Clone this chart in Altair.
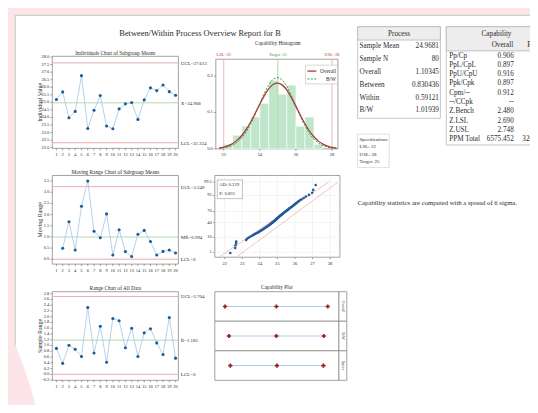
import math
from statistics import NormalDist

import altair as alt
import pandas as pd

# ---------------- data ----------------
report_title = "Between/Within Process Overview Report for B"

subgroup_ids = list(range(1, 21))
subgroup_means = [25.19, 25.69, 23.98, 24.40, 26.77, 23.27, 24.48, 25.45, 23.43, 23.25,
                  24.57, 24.90, 24.99, 23.87, 25.16, 25.96, 25.78, 26.15, 25.71, 25.47]
mr_ids = list(range(2, 21))
moving_ranges = [0.49, 1.68, 0.41, 2.37, 3.50, 1.25, 0.96, 2.03, 0.19, 1.32,
                 0.34, 0.12, 1.12, 1.29, 0.79, 0.19, 0.35, 0.41, 0.28]
subgroup_ranges = [0.90, 0.38, 1.01, 0.87, 0.62, 2.32, 0.74, 1.67, 0.42, 1.94,
                   1.86, 0.92, 1.60, 0.62, 1.44, 1.58, 1.09, 0.69, 1.97, 0.56]

limit_kinds = ["limit", "center", "limit"]
ind_limit_values = [27.613, 24.968, 22.324]
ind_limit_text = ["UCL=27.613", "X\u033f=24.968", "LCL=22.324"]
mr_limit_values = [3.249, 0.994, 0.0]
mr_limit_text = ["UCL=3.249", "MR\u0304=0.994", "LCL=0"]
r_limit_values = [2.704, 1.185, 0.0]
r_limit_text = ["UCL=2.704", "R\u0304=1.185", "LCL=0"]

ind_yticks = [22.0, 22.5, 23.0, 23.5, 24.0, 24.5, 25.0, 25.5, 26.0, 26.5, 27.0, 27.5, 28.0]
mr_yticks = [0.0, 0.5, 1.0, 1.5, 2.0, 2.5, 3.0, 3.5]
r_yticks = [-0.2, 0.0, 0.2, 0.4, 0.6, 0.8, 1.0, 1.2, 1.4, 1.6, 1.8, 2.0, 2.2, 2.4, 2.6, 2.8]

ind_title = "Individuals Chart of Subgroup Means"
mr_title = "Moving Range Chart of Subgroup Means"
r_title = "Range Chart of All Data"
ind_ytitle = "Individual Value"
mr_ytitle = "Moving Range"
r_ytitle = "Sample Range"

hist_title = "Capability Histogram"
hist_bin_start = [22.0, 22.5, 23.0, 23.5, 24.0, 24.5, 25.0, 25.5, 26.0, 26.5, 27.0]
hist_bin_end = [22.5, 23.0, 23.5, 24.0, 24.5, 25.0, 25.5, 26.0, 26.5, 27.0, 27.5]
hist_density = [0.0125, 0.0375, 0.0625, 0.0875, 0.125, 0.1875, 0.15, 0.175, 0.0625, 0.0875, 0.0125]
hist_xticks = [22, 24, 26, 28]
hist_yticks = [0.0, 0.1, 0.2]

curve_x = [21.75, 22.0, 22.25, 22.5, 22.75, 23.0, 23.25, 23.5, 23.75, 24.0, 24.25, 24.5, 24.75, 25.0,
           25.25, 25.5, 25.75, 26.0, 26.25, 26.5, 26.75, 27.0, 27.25, 27.5, 27.75, 28.0, 28.25]
curve_overall = [0.0026, 0.0049, 0.0087, 0.0148, 0.0240, 0.0368, 0.0538, 0.0746, 0.0983, 0.1230,
                 0.1463, 0.1652, 0.1773, 0.1807, 0.1750, 0.1610, 0.1406, 0.1167, 0.0921, 0.0690,
                 0.0491, 0.0332, 0.0213, 0.0130, 0.0075, 0.0041, 0.0022]
curve_bw = [0.0013, 0.0028, 0.0056, 0.0104, 0.0184, 0.0303, 0.0473, 0.0694, 0.0958, 0.1247,
            0.1527, 0.1761, 0.1913, 0.1956, 0.1883, 0.1708, 0.1458, 0.1172, 0.0887, 0.0633,
            0.0425, 0.0269, 0.0160, 0.0089, 0.0047, 0.0023, 0.0011]
legend_names = ["Overall", "B/W"]

spec_values = [22, 25, 28]
spec_text = ["LSL=22", "Target=25", "USL=28"]
spec_kinds = ["limit", "target", "limit"]

prob_obs = [22.32, 22.60, 22.62, 22.65, 22.66, 23.22, 23.28, 23.36, 23.45, 23.55,
            23.64, 23.72, 23.80, 23.88, 23.95, 24.00, 24.06, 24.12, 24.17, 24.22,
            24.27, 24.31, 24.36, 24.40, 24.44, 24.48, 24.52, 24.56, 24.60, 24.63,
            24.66, 24.70, 24.73, 24.76, 24.80, 24.83, 24.86, 24.89, 24.92, 24.95,
            24.96, 24.99, 25.02, 25.05, 25.08, 25.11, 25.14, 25.17, 25.20, 25.24,
            25.27, 25.30, 25.34, 25.37, 25.41, 25.45, 25.48, 25.52, 25.56, 25.60,
            25.64, 25.68, 25.72, 25.77, 25.82, 25.87, 25.92, 25.97, 26.02, 26.08,
            26.14, 26.20, 26.28, 26.38, 26.50, 26.62, 26.80, 26.98, 27.04, 27.18]
prob_xticks = [22, 23, 24, 25, 26, 27, 28]
prob_tick_pct = [1, 10, 40, 70, 95, 99.5]
prob_tick_text = ["1", "10", "40", "70", "95", "99.5"]
prob_band_group = ["a", "a", "b", "b"]
prob_band_x = [21.70, 27.91, 22.67, 28.45]
prob_band_pct = [0.4, 99.5, 0.4, 99.5]
ad_lines = ["AD: 0.219", "P: 0.831"]

capplot_title = "Capability Plot"
cap_rows = ["Overall", "B/W", "Specs"]
cap_low = [21.657, 21.910, 22.0]
cap_mid = [24.968, 24.968, 25.0]
cap_high = [28.279, 28.026, 28.0]

process_header = "Process"
process_labels = ["Sample Mean", "Sample N", "Overall", "Between", "Within", "B/W"]
process_values = ["24.9681", "80", "1.10345", "0.830436", "0.59121", "1.01939"]

capability_header = "Capability"
capability_cols = ["Overall", "B/W"]
capability_labels = ["Pp/Cp", "PpL/CpL", "PpU/CpU", "Ppk/Cpk", "Cpm/--", "--/CCpk",
                     "Z.Bench", "Z.LSL", "Z.USL", "PPM Total"]
capability_overall = ["0.906", "0.897", "0.916", "0.897", "0.912", "--",
                      "2.480", "2.690", "2.748", "6575.452"]
capability_bw = ["0.981", "0.971", "0.991", "0.971", "--", "0.981",
                 "2.720", "2.912", "2.974", "3265.148"]

spec_box_lines = ["Specifications", "LSL: 22", "USL: 28", "Target: 25"]
note_text = "Capability statistics are computed with a spread of 6 sigma."

# ---------------- styling / layout ----------------
FONT = "Liberation Serif, DejaVu Serif, serif"
PINK = "#fde4e8"
PAGE_BORDER = "#cbd3c3"
FRAME = "#8a8a8a"
TXT = "#2b2b2b"
TICK = "#666666"
LINE_BLUE = "#9fc5e8"
POINT_BLUE = "#1f5b99"
LINE_COLORS = {"limit": "#e6a3a3", "center": "#a9d5a9", "target": "#8fcf8f"}
SPEC_TEXT_COLORS = {"limit": "#c0392b", "target": "#3c9a4a"}
HIST_GREEN = "#bfe5cb"
CURVE_RED = "#a33b32"
CURVE_GREEN = "#3c9a4a"
CROSS_RED = "#9b1c1c"

AXIS_FS = 4.6
PANEL_TITLE_FS = 5.4
LIMIT_FS = 5.0
YTITLE_FS = 6.0
TABLE_FS = 7.3
NOTE_FS = 6.8
HEAD_FS = 8.5

OX, OY = 8, 8
W, H = 530, 397


def px(v):
    return v - OX


def py(v):
    return v - OY


def lin_x(domain, x0, x1):
    return alt.Scale(domain=domain, range=[px(x0), px(x1)], nice=False, zero=False)


def lin_y(domain, y_bot, y_top):
    return alt.Scale(domain=domain, range=[py(y_bot), py(y_top)], nice=False, zero=False)


def text_at(text, x, y, size, color=TXT, align="center", weight="normal", angle=None):
    mk = dict(align=align, baseline="middle", fontSize=size, font=FONT, color=color,
              fontWeight=weight)
    if angle is not None:
        mk["angle"] = angle
    return alt.Chart(pd.DataFrame({"t": [text]})).mark_text(**mk).encode(
        x=alt.value(px(x)), y=alt.value(py(y)), text="t:N")


def box(x0, y0, x1, y1, fill="white", stroke=None, sw=0.8):
    mk = dict(fill=fill)
    if stroke:
        mk.update(stroke=stroke, strokeWidth=sw)
    else:
        mk.update(strokeOpacity=0)
    return alt.Chart(pd.DataFrame({"a": [0]})).mark_rect(**mk).encode(
        x=alt.value(px(x0)), x2=alt.value(px(x1)), y=alt.value(py(y0)), y2=alt.value(py(y1)))


def hline(x0, x1, y, color, sw=1.0, dash=None):
    mk = dict(color=color, strokeWidth=sw)
    if dash:
        mk["strokeDash"] = dash
    return alt.Chart(pd.DataFrame({"a": [0]})).mark_rule(**mk).encode(
        x=alt.value(px(x0)), x2=alt.value(px(x1)), y=alt.value(py(y)))


def vline(x, y0, y1, color, sw=1.0):
    return alt.Chart(pd.DataFrame({"a": [0]})).mark_rule(color=color, strokeWidth=sw).encode(
        x=alt.value(px(x)), y=alt.value(py(y0)), y2=alt.value(py(y1)))


def frame_rect(xsc, ysc, xdom, ydom):
    d = pd.DataFrame({"x0": [xdom[0]], "x1": [xdom[1]], "y0": [ydom[0]], "y1": [ydom[1]]})
    return alt.Chart(d).mark_rect(fill="white", stroke=FRAME, strokeWidth=0.8).encode(
        x=alt.X("x0:Q", scale=xsc, axis=None), x2="x1:Q",
        y=alt.Y("y0:Q", scale=ysc, axis=None), y2="y1:Q")


def x_axis(xsc, values, texts, y_bot):
    d = pd.DataFrame({"v": values, "t": texts})
    ticks = alt.Chart(d).mark_rule(color=TICK, strokeWidth=0.6).encode(
        x=alt.X("v:Q", scale=xsc, axis=None), y=alt.value(py(y_bot)), y2=alt.value(py(y_bot) + 2))
    labels = alt.Chart(d).mark_text(baseline="top", fontSize=AXIS_FS, font=FONT, color=TXT).encode(
        x=alt.X("v:Q", scale=xsc, axis=None), y=alt.value(py(y_bot) + 3.5), text="t:N")
    return [ticks, labels]


def y_axis(ysc, values, texts, x_left):
    d = pd.DataFrame({"v": values, "t": texts})
    ticks = alt.Chart(d).mark_rule(color=TICK, strokeWidth=0.6).encode(
        y=alt.Y("v:Q", scale=ysc, axis=None), x=alt.value(px(x_left) - 2), x2=alt.value(px(x_left)))
    labels = alt.Chart(d).mark_text(align="right", baseline="middle", fontSize=AXIS_FS, font=FONT,
                                    color=TXT).encode(
        y=alt.Y("v:Q", scale=ysc, axis=None), x=alt.value(px(x_left) - 3), text="t:N")
    return [ticks, labels]


# ---------------- control charts ----------------
CTRL_X0, CTRL_X1 = 53, 181
CTRL_XDOM = [0.35, 20.45]
CTRL_TITLE_X = 117
YTITLE_X = 41


def control_panel(ids, vals, lim_vals, lim_text, ydom, y_top, y_bot, yticks, ytitle,
                  title_txt, title_y):
    xsc = lin_x(CTRL_XDOM, CTRL_X0, CTRL_X1)
    ysc = lin_y(ydom, y_bot, y_top)
    frame = frame_rect(xsc, ysc, CTRL_XDOM, ydom)
    lim = pd.DataFrame({"v": lim_vals, "t": lim_text, "k": limit_kinds})
    lim["c"] = lim["k"].map(LINE_COLORS)
    lim["x0"] = CTRL_XDOM[0]
    lim["x1"] = CTRL_XDOM[1]
    rules = alt.Chart(lim).mark_rule(strokeWidth=0.9).encode(
        x=alt.X("x0:Q", scale=xsc, axis=None), x2="x1:Q",
        y=alt.Y("v:Q", scale=ysc, axis=None),
        color=alt.Color("c:N", scale=None),
    )
    labels = alt.Chart(lim).mark_text(align="left", baseline="middle", dx=2.5, fontSize=LIMIT_FS,
                                      font=FONT, color=TXT).encode(
        x=alt.X("x1:Q", scale=xsc, axis=None),
        y=alt.Y("v:Q", scale=ysc, axis=None),
        text="t:N",
    )
    d = pd.DataFrame({"i": ids, "v": vals})
    line = alt.Chart(d).mark_line(color=LINE_BLUE, strokeWidth=0.8).encode(
        x=alt.X("i:Q", scale=xsc, axis=None), y=alt.Y("v:Q", scale=ysc, axis=None))
    pts = alt.Chart(d).mark_circle(size=10, color=POINT_BLUE, opacity=1).encode(
        x=alt.X("i:Q", scale=xsc, axis=None), y=alt.Y("v:Q", scale=ysc, axis=None))
    layers = [frame, rules, line, pts, labels]
    layers += x_axis(xsc, subgroup_ids, [str(i) for i in subgroup_ids], y_bot)
    layers += y_axis(ysc, yticks, [f"{v:.1f}" for v in yticks], CTRL_X0)
    layers.append(text_at(title_txt, CTRL_TITLE_X, title_y, PANEL_TITLE_FS))
    layers.append(text_at(ytitle, YTITLE_X, (y_top + y_bot) / 2, YTITLE_FS, angle=270))
    return layers


ind_layers = control_panel(subgroup_ids, subgroup_means, ind_limit_values, ind_limit_text,
                           [21.95, 28.05], 54, 147.5, ind_yticks, ind_ytitle, ind_title, 50.5)
mr_layers = control_panel(mr_ids, moving_ranges, mr_limit_values, mr_limit_text,
                          [-0.22, 3.75], 175, 265, mr_yticks, mr_ytitle, mr_title, 171)
r_layers = control_panel(subgroup_ids, subgroup_ranges, r_limit_values, r_limit_text,
                         [-0.21, 2.87], 293, 383, r_yticks, r_ytitle, r_title, 289)

# ---------------- capability histogram ----------------
HX0, HX1, HYT, HYB = 219, 343, 57, 148
HXDOM, HYDOM = [21.56, 28.33], [0.0, 0.246]
hxs = lin_x(HXDOM, HX0, HX1)
hys = lin_y(HYDOM, HYB, HYT)
h_frame = frame_rect(hxs, hys, HXDOM, HYDOM)
bars_df = pd.DataFrame({"s": hist_bin_start, "e": hist_bin_end, "d": hist_density})
bars_df["base"] = 0.0
h_bars = alt.Chart(bars_df).mark_rect(fill=HIST_GREEN, stroke="white", strokeWidth=0.6).encode(
    x=alt.X("s:Q", scale=hxs, axis=None), x2="e:Q",
    y=alt.Y("base:Q", scale=hys, axis=None), y2="d:Q")
spec_df = pd.DataFrame({"v": spec_values, "t": spec_text, "k": spec_kinds})
spec_df["c"] = spec_df["k"].map(LINE_COLORS)
spec_df["tc"] = spec_df["k"].map(SPEC_TEXT_COLORS)
spec_df["y0"] = HYDOM[0]
spec_df["y1"] = HYDOM[1]
h_specs = alt.Chart(spec_df).mark_rule(strokeWidth=0.8).encode(
    x=alt.X("v:Q", scale=hxs, axis=None),
    y=alt.Y("y0:Q", scale=hys, axis=None), y2="y1:Q",
    color=alt.Color("c:N", scale=None))
h_spec_text = alt.Chart(spec_df).mark_text(fontSize=4.4, font=FONT, baseline="middle").encode(
    x=alt.X("v:Q", scale=hxs, axis=None), y=alt.value(py(53)), text="t:N",
    color=alt.Color("tc:N", scale=None))
curve_df = pd.DataFrame({"x": curve_x, "o": curve_overall, "b": curve_bw})
h_overall = alt.Chart(curve_df).mark_line(color=CURVE_RED, strokeWidth=1.3, interpolate="monotone").encode(
    x=alt.X("x:Q", scale=hxs, axis=None), y=alt.Y("o:Q", scale=hys, axis=None))
h_bw = alt.Chart(curve_df).mark_line(color=CURVE_GREEN, strokeWidth=1.0, strokeDash=[2, 1.5],
                                     interpolate="monotone").encode(
    x=alt.X("x:Q", scale=hxs, axis=None), y=alt.Y("b:Q", scale=hys, axis=None))
hist_layers = [h_frame, h_bars, h_specs, h_bw, h_overall, h_spec_text]
hist_layers += x_axis(hxs, hist_xticks, [str(v) for v in hist_xticks], HYB)
hist_layers += y_axis(hys, hist_yticks, [f"{v:.1f}" for v in hist_yticks], HX0)
hist_layers += [
    box(310, 63, 342.5, 82, "white", "#bbbbbb", 0.6),
    hline(312, 321, 69, CURVE_RED, 1.3),
    hline(312, 321, 77, CURVE_GREEN, 1.0, [2, 1.5]),
    text_at(legend_names[0], 341, 69, 5.4, align="right"),
    text_at(legend_names[1], 341, 77, 5.4, align="right"),
    text_at(hist_title, 282, 41, PANEL_TITLE_FS),
]

# ---------------- normal probability plot ----------------
PX0, PX1, PYT, PYB = 218, 345, 175, 258
PXDOM, PYDOM = [21.44, 28.56], [-2.67, 3.04]
pxs = lin_x(PXDOM, PX0, PX1)
pys = lin_y(PYDOM, PYB, PYT)
prob_tick_z = [NormalDist().inv_cdf(p / 100.0) for p in prob_tick_pct]
p_frame = frame_rect(pxs, pys, PXDOM, PYDOM)
gx_df = pd.DataFrame({"v": prob_xticks})
gx_df["y0"] = PYDOM[0]
gx_df["y1"] = PYDOM[1]
p_gx = alt.Chart(gx_df).mark_rule(color="#ececec", strokeWidth=0.6).encode(
    x=alt.X("v:Q", scale=pxs, axis=None),
    y=alt.Y("y0:Q", scale=pys, axis=None), y2="y1:Q")
gy_df = pd.DataFrame({"z": prob_tick_z})
gy_df["x0"] = PXDOM[0]
gy_df["x1"] = PXDOM[1]
p_gy = alt.Chart(gy_df).mark_rule(color="#ececec", strokeWidth=0.6).encode(
    y=alt.Y("z:Q", scale=pys, axis=None),
    x=alt.X("x0:Q", scale=pxs, axis=None), x2="x1:Q")
band_df = pd.DataFrame({"g": prob_band_group, "x": prob_band_x, "p": prob_band_pct})
p_bands = alt.Chart(band_df).transform_calculate(
    z="quantileNormal(datum.p / 100)").mark_line(color="#f0b4b4", strokeWidth=0.8).encode(
    x=alt.X("x:Q", scale=pxs, axis=None), y=alt.Y("z:Q", scale=pys, axis=None), detail="g:N")
n_obs = len(prob_obs)
p_pts = alt.Chart(pd.DataFrame({"v": prob_obs})).transform_window(
    n="row_number()", sort=[alt.SortField("v")]).transform_calculate(
    z=f"quantileNormal((datum.n - 0.3) / ({n_obs} + 0.4))").mark_circle(
    size=7, color=POINT_BLUE, opacity=1).encode(
    x=alt.X("v:Q", scale=pxs, axis=None), y=alt.Y("z:Q", scale=pys, axis=None))
prob_layers = [p_frame, p_gx, p_gy, p_bands, p_pts]
prob_layers += x_axis(pxs, prob_xticks, [str(v) for v in prob_xticks], PYB)
prob_layers += y_axis(pys, prob_tick_z, prob_tick_text, PX0)
prob_layers += [
    box(220.5, 179.5, 246, 198.5, "white", "#999999", 0.6),
    text_at(ad_lines[0], 222.5, 185, 4.8, align="left"),
    text_at(ad_lines[1], 222.5, 193.5, 4.8, align="left"),
]

# ---------------- capability plot ----------------
CX0, CX1, CXS, CYT, CYB = 218, 344, 352, 293, 383
CXDOM = [21.0, 29.0]
strip_end = CXDOM[1] + (CXS - CX1) * (CXDOM[1] - CXDOM[0]) / (CX1 - CX0)
cxs = lin_x(CXDOM, CX0, CX1)
cys = alt.Scale(type="band", domain=cap_rows, range=[py(CYT), py(CYB)], paddingInner=0, paddingOuter=0)
cap_df = pd.DataFrame({"row": cap_rows, "lo": cap_low, "mid": cap_mid, "hi": cap_high})
cap_df["f0"] = CXDOM[0]
cap_df["f1"] = CXDOM[1]
cap_df["s1"] = strip_end
cap_df["sm"] = (CXDOM[1] + strip_end) / 2
c_rows = alt.Chart(cap_df).mark_rect(fill="white", stroke=FRAME, strokeWidth=0.8).encode(
    x=alt.X("f0:Q", scale=cxs, axis=None), x2="f1:Q",
    y=alt.Y("row:N", scale=cys, axis=None))
c_strip = alt.Chart(cap_df).mark_rect(fill="white", stroke=FRAME, strokeWidth=0.8).encode(
    x=alt.X("f1:Q", scale=cxs, axis=None), x2="s1:Q",
    y=alt.Y("row:N", scale=cys, axis=None))
c_lines = alt.Chart(cap_df).mark_rule(color=LINE_BLUE, strokeWidth=0.9).encode(
    x=alt.X("lo:Q", scale=cxs, axis=None), x2="hi:Q", y=alt.Y("row:N", scale=cys, axis=None))
c_pts = alt.Chart(cap_df).transform_fold(["lo", "mid", "hi"], as_=["which", "v"]).mark_point(
    shape="cross", filled=True, size=18, color=CROSS_RED, opacity=1).encode(
    x=alt.X("v:Q", scale=cxs, axis=None), y=alt.Y("row:N", scale=cys, axis=None))
c_strip_text = alt.Chart(cap_df).mark_text(angle=90, fontSize=4.0, font=FONT, color=TXT,
                                           baseline="middle").encode(
    x=alt.X("sm:Q", scale=cxs, axis=None),
    y=alt.Y("row:N", scale=cys, axis=None), text="row:N")
capplot_layers = [c_rows, c_strip, c_lines, c_pts, c_strip_text,
                  text_at(capplot_title, 281, 288.5, PANEL_TITLE_FS)]

# ---------------- tables ----------------
proc_df = pd.DataFrame({"label": process_labels, "value": process_values})
proc_ys = alt.Scale(type="band", domain=process_labels, range=[py(37.5), py(115.5)],
                    paddingInner=0, paddingOuter=0)
proc_layers = [
    box(363, 24, 447, 117, "white", "#b5b5b5", 0.8),
    box(363, 24, 447, 37.5, "#ededed", "#b5b5b5", 0.8),
    text_at(process_header, 405, 31, TABLE_FS),
    alt.Chart(proc_df).mark_text(align="left", baseline="middle", fontSize=TABLE_FS, font=FONT, color=TXT).encode(
        x=alt.value(px(365)), y=alt.Y("label:N", scale=proc_ys, axis=None), text="label:N"),
    alt.Chart(proc_df).mark_text(align="right", baseline="middle", fontSize=TABLE_FS, font=FONT, color=TXT).encode(
        x=alt.value(px(445.5)), y=alt.Y("label:N", scale=proc_ys, axis=None), text="value:N"),
]

capt_df = pd.DataFrame({"label": capability_labels, "o": capability_overall, "b": capability_bw})
capt_ys = alt.Scale(type="band", domain=capability_labels, range=[py(48.5), py(143)],
                    paddingInner=0, paddingOuter=0)
capt_layers = [
    box(453, 24, 600, 144, "white", "#b5b5b5", 0.8),
    box(453, 24, 600, 48.5, "#ededed", "#b5b5b5", 0.8),
    text_at(capability_header, 504, 31, TABLE_FS),
    text_at(capability_cols[0], 510, 43, TABLE_FS),
    text_at(capability_cols[1], 542, 43, TABLE_FS),
    alt.Chart(capt_df).mark_text(align="left", baseline="middle", fontSize=TABLE_FS, font=FONT, color=TXT).encode(
        x=alt.value(px(456)), y=alt.Y("label:N", scale=capt_ys, axis=None), text="label:N"),
    alt.Chart(capt_df).mark_text(align="right", baseline="middle", fontSize=TABLE_FS, font=FONT, color=TXT).encode(
        x=alt.value(px(521.5)), y=alt.Y("label:N", scale=capt_ys, axis=None), text="o:N"),
    alt.Chart(capt_df).mark_text(align="right", baseline="middle", fontSize=TABLE_FS, font=FONT, color=TXT).encode(
        x=alt.value(px(557.5)), y=alt.Y("label:N", scale=capt_ys, axis=None), text="b:N"),
]

spec_box_df = pd.DataFrame({"t": spec_box_lines})
spec_box_ys = alt.Scale(type="band", domain=spec_box_lines, range=[py(134), py(164)],
                        paddingInner=0, paddingOuter=0)
specbox_layers = [
    box(363, 133, 395, 167, "white", "#c8c8c8", 0.6),
    alt.Chart(spec_box_df).mark_text(align="left", baseline="middle", fontSize=5.0, font=FONT, color=TXT).encode(
        x=alt.value(px(365)), y=alt.Y("t:N", scale=spec_box_ys, axis=None), text="t:N"),
]

# ---------------- page decoration ----------------
CURL_R = 450
page_layers = [
    box(15, 12, 600, 430, "white"),
    vline(15.5, 12, 413, PAGE_BORDER, 1.2),
    hline(15, 600, 12.5, PAGE_BORDER, 1.2),
    alt.Chart(pd.DataFrame({"a": [0]})).mark_circle(size=(2 * CURL_R) ** 2, color=PINK, opacity=1).encode(
        x=alt.value(px(-400)), y=alt.value(py(520))),
    text_at(report_title, 203, 30, HEAD_FS),
    text_at(note_text, 363, 203, NOTE_FS, align="left"),
]


def panel(layers):
    return alt.layer(*layers)


chart = alt.layer(
    *page_layers,
    panel(ind_layers), panel(mr_layers), panel(r_layers),
    panel(hist_layers), panel(prob_layers), panel(capplot_layers),
    panel(proc_layers), panel(capt_layers), panel(specbox_layers),
).resolve_scale(
    x="independent", y="independent"
).properties(
    width=W, height=H, padding=0, background=PINK,
    autosize=alt.AutoSizeParams(type="none"),
).configure_view(stroke=None)

chart.save("out.html", embed_options={"renderer": "svg", "actions": False})
